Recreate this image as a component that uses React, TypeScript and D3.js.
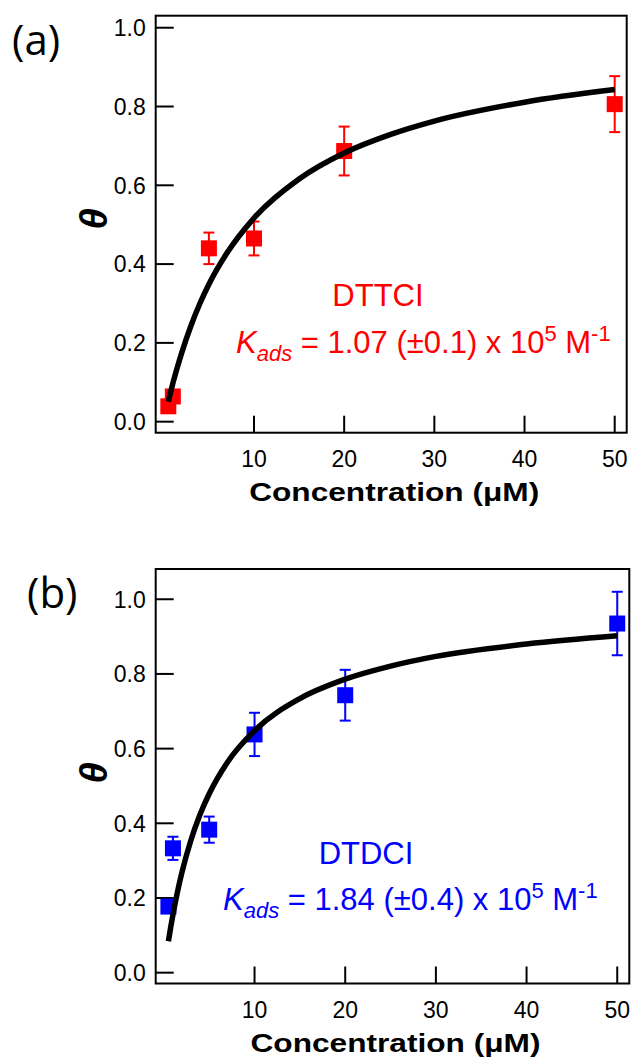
import * as d3 from "d3";

// ---- data ----
const xTicks = [10, 20, 30, 40, 50];
const yTicks = [0, 0.2, 0.4, 0.6, 0.8, 1.0];

// (a) DTTCI
const concA = [0.5, 1, 5, 10, 20, 50];
const thetaA = [0.039, 0.064, 0.44, 0.465, 0.687, 0.806];
const errA = [0, 0, 0.04, 0.043, 0.062, 0.071];

// (b) DTDCI
const concB = [0.5, 1, 5, 10, 20, 50];
const thetaB = [0.177, 0.333, 0.383, 0.638, 0.743, 0.935];
const errB = [0, 0.031, 0.035, 0.058, 0.068, 0.085];

// fit curves
const fitConc = [0.5, 0.75, 1, 1.5, 2, 3, 4, 5, 7, 10, 15, 20, 25, 30, 40, 50];
const fitA = [0.051, 0.074, 0.097, 0.138, 0.176, 0.243, 0.3, 0.349, 0.428, 0.517, 0.616, 0.682, 0.728, 0.763, 0.811, 0.843];
const fitB = [0.084, 0.121, 0.155, 0.216, 0.269, 0.356, 0.424, 0.479, 0.563, 0.648, 0.734, 0.786, 0.821, 0.847, 0.88, 0.902];

const FONT = "'Liberation Sans', Arial, sans-serif";

type PanelProps = {
  label: string;
  labelX: number;
  labelY: number;
  left: number;
  right: number;
  top: number;
  bottom: number;
  yDomain: [number, number];
  conc: number[];
  theta: number[];
  err: number[];
  fit: number[];
  color: string;
  name: string;
  kText: string;
  nameX: number;
  nameY: number;
  kX: number;
  kY: number;
  thetaY: number;
};

function Panel(p: PanelProps) {
  const x = d3.scaleLinear().domain([-0.9, 51.33]).range([p.left, p.right]);
  const y = d3.scaleLinear().domain(p.yDomain).range([p.bottom, p.top]);
  const line = d3
    .line<number>()
    .x((_, i) => x(fitConc[i]))
    .y((d) => y(d))
    .curve(d3.curveMonotoneX);
  const sq = 16;
  const cap = 5.5;

  return (
    <g>
      {/* panel label */}
      <text x={p.labelX} y={p.labelY} fontFamily="'Open Sans', sans-serif" fontSize={42} fill="#000">
        {p.label}
      </text>

      {/* frame */}
      <rect
        x={p.left}
        y={p.top}
        width={p.right - p.left}
        height={p.bottom - p.top}
        fill="none"
        stroke="#000"
        strokeWidth={2}
      />

      {/* y ticks */}
      {yTicks.map((t) => (
        <g key={"y" + t}>
          <line x1={p.left} x2={p.left + 18} y1={y(t)} y2={y(t)} stroke="#000" strokeWidth={2} />
          <text
            x={p.left - 10}
            y={y(t)}
            dy="0.36em"
            textAnchor="end"
            fontFamily={FONT}
            fontSize={23}
            fill="#000"
          >
            {d3.format(".1f")(t)}
          </text>
        </g>
      ))}

      {/* x ticks */}
      {xTicks.map((t) => (
        <g key={"x" + t}>
          <line x1={x(t)} x2={x(t)} y1={p.bottom} y2={p.bottom - 17} stroke="#000" strokeWidth={2} />
          <text x={x(t)} y={p.bottom + 34} textAnchor="middle" fontFamily={FONT} fontSize={23} fill="#000">
            {t}
          </text>
        </g>
      ))}

      {/* axis titles */}
      <text
        x={(p.left + p.right) / 2 + 3}
        y={p.bottom + 68}
        textAnchor="middle"
        fontFamily={FONT}
        fontWeight="bold"
        fontSize={26}
        textLength={290}
        lengthAdjust="spacingAndGlyphs"
        fill="#000"
      >
        Concentration (μM)
      </text>
      <text
        transform={`translate(107, ${p.thetaY}) rotate(-90)`}
        textAnchor="middle"
        fontFamily={FONT}
        fontWeight="bold"
        fontStyle="italic"
        fontSize={38}
        fill="#000"
      >
        θ
      </text>

      {/* error bars */}
      {p.conc.map((c, i) =>
        p.err[i] > 0 ? (
          <g key={"e" + i} stroke={p.color} strokeWidth={2}>
            <line x1={x(c)} x2={x(c)} y1={y(p.theta[i] - p.err[i])} y2={y(p.theta[i] + p.err[i])} />
            <line x1={x(c) - cap} x2={x(c) + cap} y1={y(p.theta[i] + p.err[i])} y2={y(p.theta[i] + p.err[i])} />
            <line x1={x(c) - cap} x2={x(c) + cap} y1={y(p.theta[i] - p.err[i])} y2={y(p.theta[i] - p.err[i])} />
          </g>
        ) : null
      )}

      {/* markers */}
      {p.conc.map((c, i) => (
        <rect key={"m" + i} x={x(c) - sq / 2} y={y(p.theta[i]) - sq / 2} width={sq} height={sq} fill={p.color} />
      ))}

      {/* fit */}
      <path d={line(p.fit) || ""} fill="none" stroke="#000" strokeWidth={5.5} />

      {/* annotation */}
      <text x={p.nameX} y={p.nameY} textAnchor="middle" fontFamily={FONT} fontSize={31} fill={p.color}>
        {p.name}
      </text>
      <text x={p.kX} y={p.kY} fontFamily={FONT} fontSize={31} fill={p.color} style={{ whiteSpace: "pre" }}>
        <tspan fontStyle="italic">K</tspan>
        <tspan fontStyle="italic" fontSize={22} dy={8}>
          ads
        </tspan>
        <tspan dy={-8}>{" = " + p.kText + " x 10"}</tspan>
        <tspan fontSize={22} dy={-12}>
          5
        </tspan>
        <tspan dy={12}>{" M"}</tspan>
        <tspan fontSize={22} dy={-12}>
          -1
        </tspan>
      </text>
    </g>
  );
}

export default function App() {
  return (
    <svg
      width={633}
      height={1062}
      viewBox="0 0 633 1062"
      style={{ position: "absolute", left: 0, top: 0, background: "#fff" }}
    >
      <Panel
        label="(a)"
        labelX={12}
        labelY={55}
        left={155.7}
        right={626.7}
        top={15.7}
        bottom={432.7}
        yDomain={[-0.028, 1.0305]}
        conc={concA}
        theta={thetaA}
        err={errA}
        fit={fitA}
        color="#ff0000"
        name="DTTCI"
        kText="1.07 (±0.1)"
        nameX={378}
        nameY={306}
        kX={236}
        kY={353}
        thetaY={219}
      />
      <Panel
        label="(b)"
        labelX={27}
        labelY={608}
        left={155.7}
        right={629.3}
        top={569}
        bottom={983.5}
        yDomain={[-0.029, 1.081]}
        conc={concB}
        theta={thetaB}
        err={errB}
        fit={fitB}
        color="#0000ff"
        name="DTDCI"
        kText="1.84 (±0.4)"
        nameX={366}
        nameY={864}
        kX={223}
        kY={910}
        thetaY={773}
      />
    </svg>
  );
}
